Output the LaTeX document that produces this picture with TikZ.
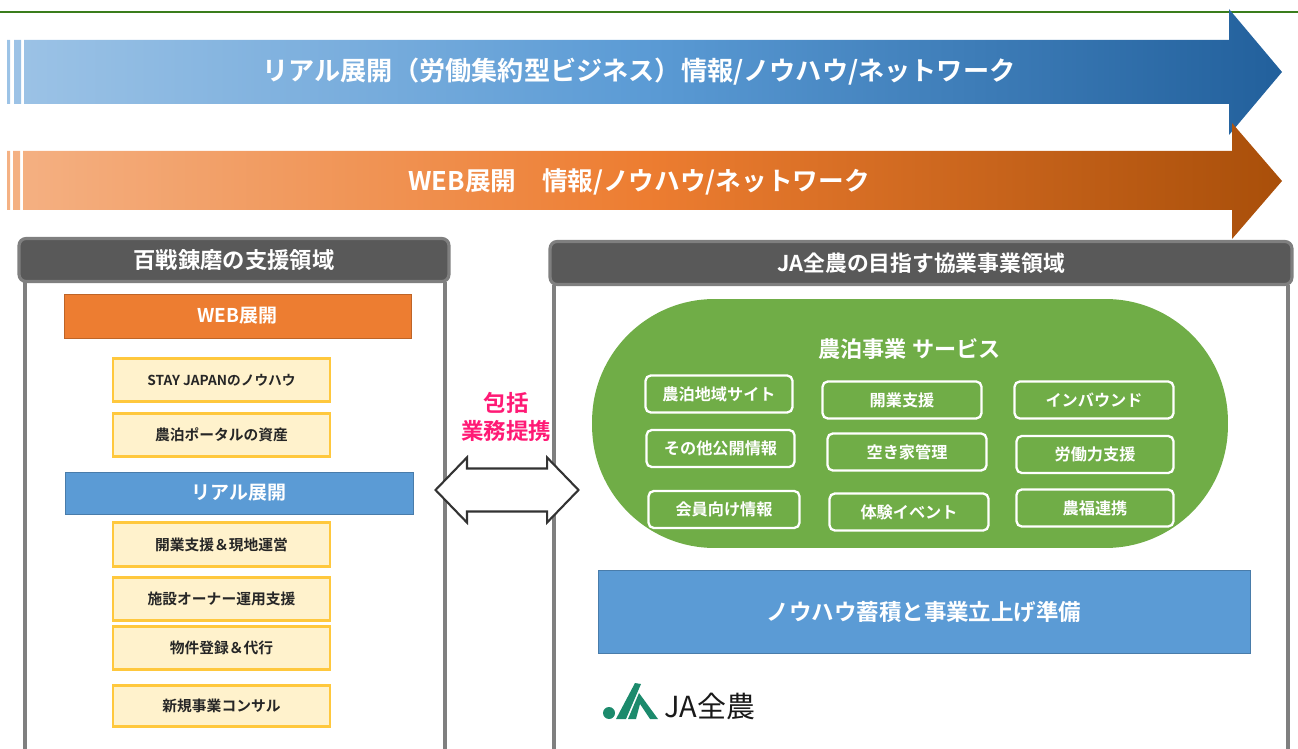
\documentclass[tikz,border=0pt]{standalone}
\usepackage{fontspec}
\setmainfont{Noto Sans CJK JP}[BoldFont=Noto Sans CJK JP Bold]
\usepackage{tikz}
\usetikzlibrary{shapes.arrows}
\definecolor{panelgray}{HTML}{595959}
\definecolor{panelline}{HTML}{7F7F7F}
\definecolor{webcolor}{HTML}{ED7D31}
\definecolor{webdark}{HTML}{A94F0A}
\definecolor{realcolor}{HTML}{5B9BD5}
\definecolor{realdark}{HTML}{22609C}
\definecolor{notecolor}{HTML}{FFF2CC}
\definecolor{noteline}{HTML}{FFC83D}
\definecolor{farmgreen}{HTML}{70AD47}
\definecolor{rulegreen}{HTML}{3A7D1C}
\definecolor{jagreen}{HTML}{1C8A6C}
\definecolor{linkpink}{HTML}{FF1A75}
\newcommand{\fs}[1]{\fontsize{#1}{#1}\selectfont}
\tikzset{
    realarrow/.style={left color=realcolor!60!white, right color=realdark, middle color=realcolor},
    webarrow/.style={left color=webcolor!60!white, right color=webdark, middle color=webcolor},
    arrowtext/.style={text=white, font=\fs{14.9}\bfseries},
    panelhead/.style={draw=panelline, line width=1.8pt, fill=panelgray, rounded corners=4pt, text=white, font=\fs{12.4}\bfseries, minimum height=0.86cm},
    panelside/.style={draw=panelline, line width=2pt},
    bandbox/.style={draw=#1!80!black, fill=#1, text=white, font=\fs{10.8}\bfseries},
    notebox/.style={draw=noteline, line width=1.3pt, fill=notecolor, text=black!85, minimum width=4.34cm, font=\fs{8.4}\bfseries},
    servicebox/.style={draw=white, line width=1.3pt, rounded corners=3pt, text=white, minimum height=0.74cm, font=\fs{9.2}\bfseries},
}

\begin{document}
\begin{tikzpicture}[x=0.02cm, y=-0.02cm]
    \useasboundingbox (0,0) rectangle (1298,749);

    % Top rule
    \draw[line width=1.2pt, rulegreen] (0,12) -- (1298,12);

    % Long arrows
    \shade[realarrow] (7,40) rectangle (10,104) (14,40) rectangle (21,104)
        (24,40) -- (1229,40) -- (1229,9) -- (1282,72) -- (1229,135) -- (1229,104) -- (24,104) -- cycle;
    \shade[webarrow] (7,151) rectangle (10,210) (13,151) rectangle (20,210)
        (23,151) -- (1232,151) -- (1232,123) -- (1282,181) -- (1232,239) -- (1232,210) -- (23,210) -- cycle;
    \node[arrowtext] (realtitle) at (639,71.5) {リアル展開（労働集約型ビジネス）情報/ノウハウ/ネットワーク};
    \node[arrowtext, font=\fs{14.6}\bfseries] (webtitle) at (639,181.5) {WEB展開　情報/ノウハウ/ネットワーク};

    % Left panel
    \draw[panelside] (25,282) -- (25,749);
    \draw[panelside] (445,282) -- (445,749);
    \node[panelhead, minimum width=8.6cm, font=\fs{12.7}\bfseries] (lefthead) at (234,260) {百戦錬磨の支援領域};
    \node[bandbox=webcolor, minimum width=6.94cm, minimum height=0.88cm] (webband) at (237.5,316) {WEB展開};
    \node[notebox, minimum height=0.86cm, font=\fs{7.8}\bfseries] (stay) at (221.5,380) {STAY JAPANのノウハウ};
    \node[notebox, minimum height=0.86cm] (portal) at (221.5,435) {農泊ポータルの資産};
    \node[bandbox=realcolor, minimum width=6.96cm, minimum height=0.84cm] (realband) at (239,493) {リアル展開};
    \node[notebox, minimum height=0.88cm] (opening) at (221.5,544.5) {開業支援＆現地運営};
    \node[notebox, minimum height=0.86cm] (owner) at (221.5,599) {施設オーナー運用支援};
    \node[notebox, minimum height=0.86cm] (listing) at (221.5,648) {物件登録＆代行};
    \node[notebox, minimum height=0.82cm] (consult) at (221.5,706) {新規事業コンサル};

    % Right panel
    \draw[panelside] (554,285) -- (554,749);
    \draw[panelside] (1288,285) -- (1288,749);
    \node[panelhead, minimum width=14.84cm] (righthead) at (921,263) {JA全農の目指す協業事業領域};

    % Link between the panels
    \node[text=linkpink, font=\fs{12.8}\bfseries, align=center] (linktext) at (506,417) {包括\\[3pt]業務提携};
    \node[double arrow, draw=black!80, line width=1.2pt, fill=white, minimum height=2.86cm, minimum width=1.26cm,
        double arrow head extend=0.22cm, double arrow tip angle=92, inner xsep=0pt, inner ysep=0.41cm] (linkarrow) at (507,490) {};

    % Services
    \node[fill=farmgreen, rounded corners=2.45cm, minimum width=12.72cm, minimum height=4.98cm] (services) at (910,423.5) {};
    \node[text=white, font=\fs{12.6}\bfseries] (servicetitle) at (909.5,349.5) {農泊事業 サービス};
    \node[servicebox, minimum width=2.94cm] (area) at (719,394) {農泊地域サイト};
    \node[servicebox, minimum width=3.18cm] (support) at (902,400) {開業支援};
    \node[servicebox, minimum width=3.18cm] (inbound) at (1094,400) {インバウンド};
    \node[servicebox, minimum width=2.96cm] (public) at (720.5,448.5) {その他公開情報};
    \node[servicebox, minimum width=3.18cm] (vacant) at (907,452) {空き家管理};
    \node[servicebox, minimum width=3.14cm] (labor) at (1095,454.5) {労働力支援};
    \node[servicebox, minimum width=3.02cm] (member) at (724,509.5) {会員向け情報};
    \node[servicebox, minimum width=3.18cm] (event) at (909,512) {体験イベント};
    \node[servicebox, minimum width=3.14cm] (welfare) at (1095,508) {農福連携};

    % Know-how band
    \node[bandbox=realcolor, minimum width=13.04cm, minimum height=1.66cm, font=\fs{12.8}\bfseries] (knowhow) at (924,611.5) {ノウハウ蓄積と事業立上げ準備};

    % Logo
    \fill[jagreen] (609,713) circle (6);
    \fill[jagreen] (635,683) -- (641,684) -- (626,719) -- (616,719) -- cycle;
    \fill[jagreen] (639,693) -- (658,719) -- (650,719) -- (640,704) -- (636,719) -- (628,719) -- cycle;
    \node[text=black!90, font=\fs{16.5}, inner sep=0pt] (logotext) at (710,706) {JA全農};
\end{tikzpicture}
\end{document}
